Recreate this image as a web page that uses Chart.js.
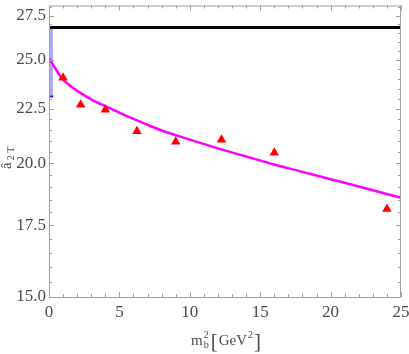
<!DOCTYPE html>
<html>
<head>
<meta charset="utf-8">
<script src="https://cdn.jsdelivr.net/npm/chart.js@4.4.1/dist/chart.umd.min.js"></script>
<style>
  html, body { margin: 0; padding: 0; background: #fff; }
  #wrap { width: 409px; height: 354px; }
</style>
</head>
<body>
<div id="wrap"><canvas id="chart"></canvas></div>
<script>
// axis ticks
const xTicks = [0, 5, 10, 15, 20, 25];
const yTicks = [15.0, 17.5, 20.0, 22.5, 25.0, 27.5];

// red triangles (m_b^2, a2T)
const pointX = [1, 2.25, 4, 6.25, 9, 12.25, 16, 24];
const pointY = [24.05, 22.69, 22.45, 21.43, 20.95, 21.05, 20.46, 18.13];

// magenta fit curve
const curveX = [0, 0.2, 0.4, 0.7, 1, 1.5, 2, 3, 4, 5, 6, 7, 8, 10, 12, 14, 16, 18, 20, 22, 25];
const curveY = [25.1, 24.85, 24.6, 24.25, 23.95, 23.64, 23.38, 22.96, 22.62, 22.31, 22.01, 21.73, 21.47, 21.05, 20.66, 20.3, 19.95, 19.64, 19.33, 19.03, 18.57];

// black horizontal line and blue band at m_b^2 ~ 0
const limitY = 26.8;
const bandX = [0, 0.3];
const bandLow = 23.1;
const bandHigh = 26.8;

const frameColor = '#a0a0a0';
const textColor = '#4a4a4a';
const serif = '"Liberation Serif", "DejaVu Serif", serif';

const framePlugin = {
  id: 'frame',
  afterDatasetsDraw(chart) {
    const { ctx, chartArea: a, scales } = chart;
    const xs = scales.x, ys = scales.y;
    ctx.save();
    ctx.strokeStyle = frameColor;
    ctx.lineWidth = 1;
    ctx.strokeRect(a.left + 0.5, a.top + 0.5, a.right - a.left - 1, a.bottom - a.top);
    ctx.beginPath();
    // x ticks, every 1 unit, major every 5
    for (let v = 0; v <= 25; v++) {
      const px = Math.round(xs.getPixelForValue(v)) + 0.5;
      const len = v % 5 === 0 ? 5 : 3;
      ctx.moveTo(px, a.bottom); ctx.lineTo(px, a.bottom - len);
      ctx.moveTo(px, a.top); ctx.lineTo(px, a.top + len);
    }
    // y ticks, every 0.5, major every 2.5
    for (let v = 15; v <= 28; v += 0.5) {
      const py = Math.round(ys.getPixelForValue(v)) + 0.5;
      const len = (v * 2) % 5 === 0 ? 5 : 3;
      ctx.moveTo(a.left, py); ctx.lineTo(a.left + len, py);
      ctx.moveTo(a.right, py); ctx.lineTo(a.right - len, py);
    }
    ctx.stroke();
    ctx.restore();
  },
  afterDraw(chart) {
    const { ctx } = chart;
    ctx.save();
    ctx.fillStyle = textColor;
    ctx.textBaseline = 'alphabetic';
    ctx.textAlign = 'left';
    // x title: m_b^2 [GeV^2]
    let x = 191;
    const base = 345;
    ctx.font = '15px ' + serif;
    ctx.fillText('m', x, base);
    const w = ctx.measureText('m').width;
    ctx.font = '10px ' + serif;
    ctx.fillText('2', x + w + 1, base - 7);
    ctx.fillText('b', x + w + 1, base + 3);
    x += w + 8;
    ctx.font = '21px ' + serif;
    ctx.fillText('[', x, base + 3);
    x += ctx.measureText('[').width + 1;
    ctx.font = '15px ' + serif;
    ctx.fillText('GeV', x, base);
    x += ctx.measureText('GeV').width;
    ctx.font = '10px ' + serif;
    ctx.fillText('2', x + 1, base - 7);
    x += 7;
    ctx.font = '21px ' + serif;
    ctx.fillText(']', x, base + 3);

    // y title: â_{2 T}, rotated
    ctx.translate(11, 169);
    ctx.rotate(-Math.PI / 2);
    ctx.font = '15px ' + serif;
    ctx.fillText('\u00e2', 0, 0);
    const aw = ctx.measureText('\u00e2').width;
    ctx.font = '10px ' + serif;
    ctx.fillText('2 T', aw + 2, 3);
    ctx.restore();
  }
};

new Chart(document.getElementById('chart'), {
  type: 'line',
  data: {
    datasets: [
      {
        label: 'band top',
        data: bandX.map(x => ({ x: x, y: bandHigh })),
        borderWidth: 0,
        pointRadius: 0,
        backgroundColor: 'rgba(160, 160, 245, 0.85)',
        fill: '+1',
        order: 5
      },
      {
        label: 'band bottom',
        data: bandX.map(x => ({ x: x, y: bandLow })),
        borderColor: '#2020e0',
        borderWidth: 2,
        pointRadius: 0,
        fill: false,
        order: 4
      },
      {
        label: 'limit',
        data: [{ x: 0, y: limitY }, { x: 25, y: limitY }],
        borderColor: '#000000',
        borderWidth: 2.8,
        pointRadius: 0,
        fill: false,
        order: 3
      },
      {
        label: 'fit',
        data: curveX.map((x, i) => ({ x: x, y: curveY[i] })),
        borderColor: '#ff00ff',
        borderWidth: 2.5,
        pointRadius: 0,
        cubicInterpolationMode: 'monotone',
        fill: false,
        order: 2
      },
      {
        label: 'lattice',
        type: 'scatter',
        data: pointX.map((x, i) => ({ x: x, y: pointY[i] })),
        pointStyle: 'triangle',
        pointRadius: 5.5,
        backgroundColor: '#ff0000',
        borderColor: '#ff0000',
        borderWidth: 0,
        order: 1
      }
    ]
  },
  options: {
    responsive: true,
    maintainAspectRatio: false,
    animation: false,
    layout: { padding: { top: 3, right: 8, left: 0, bottom: 0 } },
    plugins: {
      legend: { display: false },
      tooltip: { enabled: false }
    },
    scales: {
      x: {
        type: 'linear',
        min: 0,
        max: 25,
        grid: { display: false, drawTicks: false },
        border: { display: false },
        afterBuildTicks: s => { s.ticks = xTicks.map(v => ({ value: v })); },
        afterFit: s => { s.height = 57; s.paddingLeft = 0; s.paddingRight = 0; },
        ticks: {
          padding: 5,
          color: textColor,
          font: { family: serif, size: 17 },
          maxRotation: 0,
          callback: v => String(v)
        }
      },
      y: {
        type: 'logarithmic',
        min: 15,
        max: 28.1,
        grid: { display: false, drawTicks: false },
        border: { display: false },
        afterBuildTicks: s => { s.ticks = yTicks.map(v => ({ value: v })); },
        afterFit: s => { s.width = 49; s.paddingTop = 0; s.paddingBottom = 0; },
        ticks: {
          padding: 3,
          color: textColor,
          font: { family: serif, size: 17 },
          callback: v => Number(v).toFixed(1)
        }
      }
    }
  },
  plugins: [framePlugin]
});
</script>
</body>
</html>
